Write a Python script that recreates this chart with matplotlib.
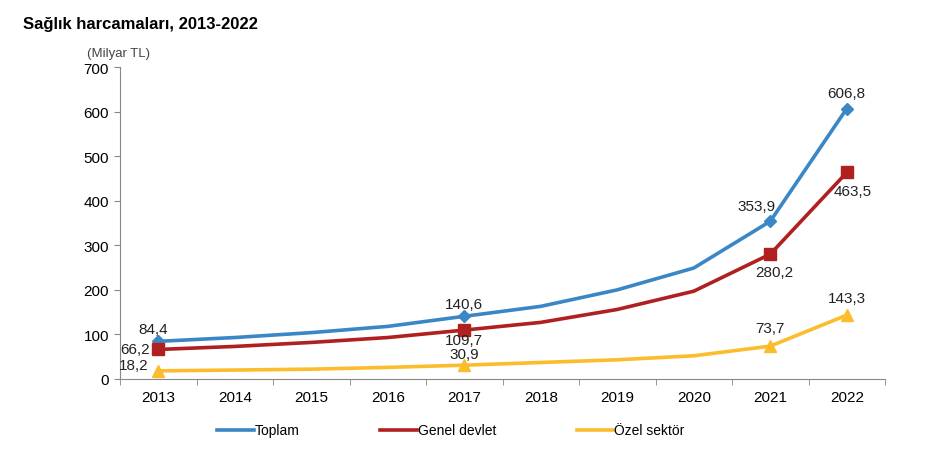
import matplotlib.pyplot as plt

plt.rcParams['font.family'] = ['Liberation Sans', 'DejaVu Sans']

# veri (Milyar TL)
years = [2013, 2014, 2015, 2016, 2017, 2018, 2019, 2020, 2021, 2022]
toplam = [84.4, 93, 104, 118, 140.6, 163, 200, 249, 353.9, 606.8]
genel = [66.2, 73, 82, 93, 109.7, 127, 156, 197, 280.2, 463.5]
ozel = [18.2, 20, 22, 26, 30.9, 37, 43, 52, 73.7, 143.3]
etiketli = [0, 4, 8, 9]

series = [
    ('Toplam', toplam, '#3a87c8', 'D', 6),
    ('Genel devlet', genel, '#b02020', 's', 8),
    ('Özel sektör', ozel, '#fbbd2c', '^', 8),
]

# etiket yerleri (offset pt)
offsets = {
    'Toplam': [(-4, 9), (0, 9), (-10, 11), (0, 11)],
    'Genel devlet': [(-12, 0), (0, -7), (3, -13), (4, -13)],
    'Özel sektör': [(-13, 4), (0, 8), (0, 13), (0, 12)],
}

fig = plt.figure(figsize=(9.32, 4.6), dpi=100)
ax = fig.add_axes([0.1288, 0.174, 0.8208, 0.678])

x = list(range(len(years)))
for name, vals, col, mk, ms in series:
    ax.plot(x, vals, color=col, lw=2.6, label=name, solid_capstyle='round')
    ax.plot([x[i] for i in etiketli], [vals[i] for i in etiketli], ls='none',
            marker=mk, color=col, ms=ms)
    for k, i in enumerate(etiketli):
        dx, dy = offsets[name][k]
        ha = 'center'
        if dx < -11:
            ha = 'right'
            dx = dx + 6
        ax.annotate(f"{vals[i]:.1f}".replace('.', ','), (x[i], vals[i]),
                    xytext=(dx, dy), textcoords='offset points',
                    ha=ha, va='center', fontsize=11, color='#222222')

ax.set_xlim(-0.5, len(years) - 0.5)
ax.set_ylim(0, 700)
ax.set_yticks(range(0, 701, 100))
ax.set_xticks(x)
ax.set_xticklabels([str(y) for y in years])
ax.set_xticks([i - 0.5 for i in range(len(years) + 1)], minor=True)
ax.tick_params(axis='x', which='major', length=0, pad=8, labelsize=11)
ax.tick_params(axis='x', which='minor', length=4, color='#888888')
ax.tick_params(axis='y', length=4, color='#888888', labelsize=11, pad=4)
for s in ['top', 'right']:
    ax.spines[s].set_visible(False)
for s in ['left', 'bottom']:
    ax.spines[s].set_color('#888888')

fig.text(0.025, 0.938, 'Sağlık harcamaları, 2013-2022', fontsize=12, fontweight='bold')
fig.text(0.093, 0.876, '(Milyar TL)', fontsize=9.5, color='#444444')

handles = [plt.Line2D([], [], color=c, lw=2.6) for _, _, c, _, _ in series]
fig.legend(handles, [s[0] for s in series], loc='center', bbox_to_anchor=(0.484, 0.062),
           ncol=3, frameon=False, fontsize=10, handlelength=2.6, handletextpad=0.1,
           columnspacing=5.8)

fig.savefig('out.png', dpi=100)
